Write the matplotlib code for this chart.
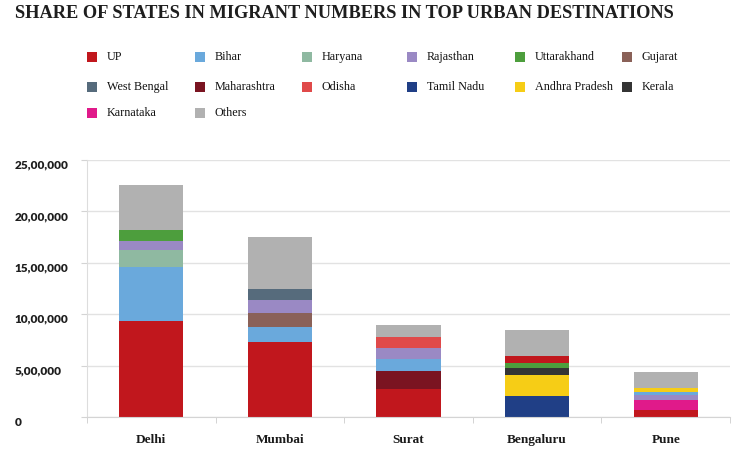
import matplotlib
matplotlib.use("Agg")
import matplotlib.pyplot as plt
from matplotlib.patches import Rectangle
from matplotlib.ticker import FuncFormatter, FixedLocator
import matplotlib.transforms as mtransforms

# Cities and the states stacked in each bar (bottom to top), values in persons
cities = ["Delhi", "Mumbai", "Surat", "Bengaluru", "Pune"]

delhi_states = ["UP", "Bihar", "Haryana", "Rajasthan", "Uttarakhand", "Others"]
delhi_vals = [935000, 520000, 168000, 91000, 104000, 442000]

mumbai_states = ["UP", "Bihar", "Gujarat", "Rajasthan", "West Bengal", "Others"]
mumbai_vals = [725000, 152000, 136000, 123000, 107000, 507000]

surat_states = ["UP", "Maharashtra", "Bihar", "Rajasthan", "Odisha", "Others"]
surat_vals = [270000, 175000, 124000, 103000, 107000, 114000]

bengaluru_states = ["Tamil Nadu", "Andhra Pradesh", "Kerala", "Uttarakhand", "UP", "Others"]
bengaluru_vals = [200000, 206000, 71000, 49000, 65000, 253000]

pune_states = ["UP", "Karnataka", "Rajasthan", "Bihar", "Andhra Pradesh", "Others"]
pune_vals = [72000, 91000, 48000, 32000, 43000, 152000]

legend_rows = [
    ["UP", "Bihar", "Haryana", "Rajasthan", "Uttarakhand", "Gujarat"],
    ["West Bengal", "Maharashtra", "Odisha", "Tamil Nadu", "Andhra Pradesh", "Kerala"],
    ["Karnataka", "Others"],
]

colors = {
    "UP": "#c1171d",
    "Bihar": "#6aa9dc",
    "Haryana": "#8fb9a1",
    "Rajasthan": "#9a89c4",
    "Uttarakhand": "#4d9e3d",
    "Gujarat": "#8a6158",
    "West Bengal": "#566b7c",
    "Maharashtra": "#7a1421",
    "Odisha": "#e04a4a",
    "Tamil Nadu": "#203f86",
    "Andhra Pradesh": "#f6cd16",
    "Kerala": "#343434",
    "Karnataka": "#e01a8a",
    "Others": "#b1b1b1",
}

stacks = [
    (delhi_states, delhi_vals),
    (mumbai_states, mumbai_vals),
    (surat_states, surat_vals),
    (bengaluru_states, bengaluru_vals),
    (pune_states, pune_vals),
]


def indian_format(v, pos=None):
    n = int(round(v))
    s = str(n)
    if len(s) <= 3:
        return s
    head, tail = s[:-3], s[-3:]
    groups = []
    while len(head) > 2:
        groups.insert(0, head[-2:])
        head = head[:-2]
    if head:
        groups.insert(0, head)
    return ",".join(groups) + "," + tail


W, H = 740, 458
fig = plt.figure(figsize=(W / 100, H / 100), dpi=100)
ax = fig.add_axes([87 / W, 1 - 417 / H, (730 - 87) / W, (417 - 160) / H])

for i, (states, vals) in enumerate(stacks):
    bottom = 0
    for st, v in zip(states, vals):
        ax.bar(i, v, bottom=bottom, width=0.5, color=colors[st], linewidth=0)
        bottom += v

ax.set_xlim(-0.5, len(cities) - 0.5)
ax.set_ylim(0, 2500000)
ax.set_yticks([0, 500000, 1000000, 1500000, 2000000, 2500000])
ax.yaxis.set_major_formatter(FuncFormatter(indian_format))
ax.set_xticks(range(len(cities)))
ax.set_xticklabels(cities, fontfamily="Liberation Serif", fontweight="bold",
                   fontsize=9.5, color="#1a1a1a")
ax.xaxis.set_minor_locator(FixedLocator([k + 0.5 for k in range(-1, len(cities))]))
ax.tick_params(axis="x", which="major", length=0, pad=12.5)
ax.tick_params(axis="x", which="minor", length=4, color="#cccccc")
ax.tick_params(axis="y", length=4, color="#d4d4d4", pad=48)

for lab in ax.get_yticklabels():
    lab.set_horizontalalignment("left")
    lab.set_fontfamily("Lato")
    lab.set_fontweight("heavy")
    lab.set_fontsize(8.5)
    lab.set_color("#1e1e1e")
    lab.set_transform(lab.get_transform() +
                      mtransforms.ScaledTranslation(0, -3 / 72, fig.dpi_scale_trans))

ax.grid(axis="y", color="#e2e2e2", linewidth=1)
ax.set_axisbelow(True)
for side in ["top", "right"]:
    ax.spines[side].set_visible(False)
ax.spines["left"].set_color("#dddddd")
ax.spines["bottom"].set_color("#d4d4d4")

# Title
fig.text(15 / W, 1 - 14 / H, "SHARE OF STATES IN MIGRANT NUMBERS IN TOP URBAN DESTINATIONS",
         fontfamily="Liberation Serif", fontweight="bold", fontsize=13.2,
         color="#1e1e1e", va="center", ha="left")

# Legend laid out on a grid
col_x = [92, 200, 307, 412, 520, 627]
row_y = [57, 87, 113]
sq = 10
for r, row in enumerate(legend_rows):
    for c, name in enumerate(row):
        cx, cy = col_x[c], row_y[r]
        fig.add_artist(Rectangle(((cx - sq / 2) / W, 1 - (cy + sq / 2) / H), sq / W, sq / H,
                                 transform=fig.transFigure, color=colors[name], linewidth=0))
        fig.text((cx + 15) / W, 1 - cy / H, name, fontfamily="Liberation Serif",
                 fontsize=8.7, color="#111111", va="center", ha="left")

fig.savefig("out.png", dpi=100)
